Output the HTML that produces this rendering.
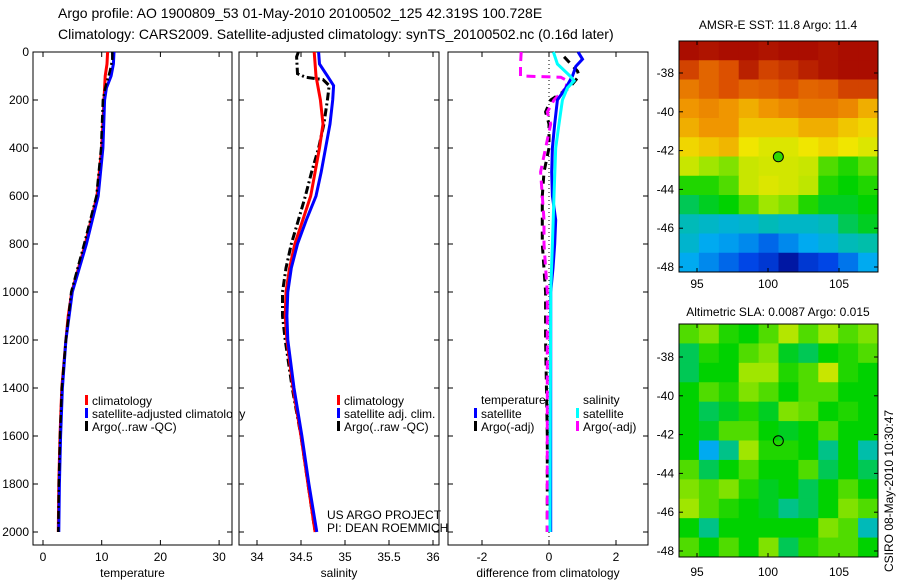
<!DOCTYPE html>
<html><head><meta charset="utf-8"><style>
body{margin:0;background:#fff}
svg{display:block;font-family:"Liberation Sans",sans-serif}
</style></head><body>
<svg id="c" width="900" height="580" viewBox="0 0 900 580">
<text x="58" y="18" font-size="14">Argo profile: AO 1900809_53 01-May-2010 20100502_125 42.319S 100.728E</text>
<text x="58" y="39" font-size="14">Climatology: CARS2009. Satellite-adjusted climatology: synTS_20100502.nc (0.16d later)</text>
<g id="g"></g>
<text x="327" y="519" font-size="12">US ARGO PROJECT</text>
<text x="327" y="532" font-size="12">PI: DEAN ROEMMICH</text>
<text x="778" y="29" font-size="12" text-anchor="middle">AMSR-E SST: 11.8 Argo: 11.4</text>
<text x="778" y="316" font-size="12" text-anchor="middle">Altimetric SLA: 0.0087 Argo: 0.015</text>
<text transform="translate(893,572) rotate(-90)" font-size="12">CSIRO 08-May-2010 10:30:47</text>
</svg>
<script>
// ---- data ----
const depthTicks=[0,200,400,600,800,1000,1200,1400,1600,1800,2000];
const tempTicks=[0,10,20,30];
const salTicks=[34,34.5,35,35.5,36];
const salTickLabels=["34","34.5","35","35.5","36"];
const diffTicks=[-2,0,2];
const tempClimDepth=[0,50,100,200,400,600,800,1000,1100,1200,1400,1600,1800,2000];
const tempClim=[11.0,10.9,10.6,10.4,10.0,9.2,7.2,4.9,4.3,3.9,3.2,2.9,2.7,2.6];
const tempSatDepth=[0,50,100,150,200,400,600,800,1000,1200,1400,1600,1800,2000];
const tempSat=[12.1,12.0,11.6,10.8,10.5,10.2,9.4,7.4,5.0,3.9,3.3,3.0,2.8,2.7];
const tempArgoDepth=[0,30,80,150,200,400,600,800,1000,1200,1400,1600,1800,2000];
const tempArgo=[11.8,11.8,11.4,10.6,10.2,9.9,9.1,7.0,4.8,3.9,3.2,2.9,2.7,2.6];
const salClimDepth=[0,100,200,300,400,500,600,700,800,900,1000,1100,1200,1400,1600,1800,2000];
const salClim=[34.65,34.67,34.72,34.75,34.71,34.66,34.61,34.52,34.43,34.37,34.33,34.32,34.34,34.41,34.50,34.58,34.66];
const salSatDepth=[0,50,100,140,200,300,400,500,600,700,800,900,1000,1100,1200,1400,1600,1800,2000];
const salSat=[34.70,34.71,34.80,34.87,34.86,34.83,34.78,34.73,34.67,34.56,34.46,34.39,34.35,34.34,34.35,34.42,34.51,34.59,34.68];
const salArgoDepth=[0,20,90,105,115,140,200,300,400,500,600,700,800,900,1000,1100,1200,1400,1600,1800,2000];
const salArgo=[34.47,34.45,34.46,34.55,34.75,34.82,34.80,34.76,34.70,34.62,34.55,34.47,34.39,34.33,34.29,34.29,34.32,34.40,34.50,34.58,34.66];
const dTempSatDepth=[0,30,60,100,150,200,300,400,500,600,700,800,900,1000,1500,2000];
const dTempSat=[0.87,1.0,0.8,0.7,0.5,0.25,0.17,0.1,0.08,0.1,0.2,0.17,0.12,0.05,0.05,0.05];
const dSalSatDepth=[0,50,100,120,150,200,300,400,600,800,1000,1500,2000];
const dSalSat=[0.13,0.25,0.63,0.75,0.55,0.4,0.3,0.2,0.15,0.1,0.05,0.04,0.03];
const dTempArgoDepth=[20,80,100,150,200,250,300,400,500,600,800,1000,1200,1600,2000];
const dTempArgo=[0.45,0.85,0.9,0.6,0.05,-0.1,0.0,0.0,-0.15,-0.2,-0.2,-0.1,-0.1,-0.05,-0.05];
const dSalArgoDepth=[0,50,90,100,105,120,150,200,250,300,400,500,600,700,800,900,1000,1500,2000];
const dSalArgo=[-0.83,-0.85,-0.85,-0.85,0.35,0.55,0.5,0.15,-0.05,0.05,-0.1,-0.25,-0.2,-0.15,-0.15,-0.1,-0.05,-0.05,-0.05];
const mapLonTicks=[95,100,105];
const mapLatTicks=[-38,-40,-42,-44,-46,-48];
const argoLon=100.728, argoLat=-42.319;
const sstGrid=[
[0.98,0.97,0.98,0.98,0.97,0.98,0.98,0.97,0.98,0.98],
[0.90,0.85,0.88,0.95,0.90,0.92,0.95,0.97,0.98,0.98],
[0.82,0.85,0.88,0.85,0.86,0.88,0.85,0.86,0.90,0.90],
[0.78,0.80,0.78,0.75,0.78,0.80,0.82,0.82,0.80,0.75],
[0.75,0.78,0.78,0.72,0.72,0.72,0.75,0.75,0.72,0.70],
[0.70,0.72,0.74,0.68,0.66,0.66,0.68,0.70,0.68,0.66],
[0.64,0.60,0.58,0.64,0.65,0.65,0.64,0.55,0.52,0.56],
[0.52,0.52,0.55,0.64,0.66,0.65,0.63,0.52,0.50,0.52],
[0.45,0.48,0.50,0.55,0.60,0.58,0.52,0.48,0.48,0.50],
[0.38,0.36,0.34,0.35,0.38,0.36,0.36,0.38,0.45,0.48],
[0.35,0.30,0.28,0.25,0.20,0.25,0.30,0.33,0.38,0.40],
[0.30,0.25,0.20,0.15,0.12,0.05,0.12,0.15,0.22,0.30]];
const slaGrid=[
[0.55,0.58,0.52,0.50,0.55,0.62,0.55,0.60,0.55,0.58],
[0.45,0.52,0.50,0.55,0.58,0.48,0.45,0.50,0.52,0.55],
[0.45,0.50,0.50,0.60,0.60,0.52,0.55,0.64,0.52,0.50],
[0.50,0.55,0.52,0.58,0.55,0.50,0.55,0.55,0.50,0.50],
[0.50,0.45,0.48,0.52,0.48,0.58,0.56,0.50,0.52,0.50],
[0.50,0.48,0.55,0.55,0.50,0.48,0.50,0.55,0.50,0.50],
[0.50,0.30,0.42,0.60,0.52,0.52,0.50,0.42,0.50,0.40],
[0.55,0.45,0.50,0.55,0.50,0.50,0.55,0.45,0.50,0.45],
[0.58,0.55,0.58,0.52,0.48,0.50,0.45,0.50,0.55,0.50],
[0.60,0.55,0.52,0.50,0.48,0.42,0.45,0.50,0.58,0.55],
[0.50,0.42,0.50,0.50,0.50,0.50,0.50,0.58,0.55,0.38],
[0.55,0.50,0.55,0.50,0.58,0.45,0.52,0.55,0.55,0.50]];

// ---- drawing ----
const NS='http://www.w3.org/2000/svg';
const G=document.getElementById('g');
function mk(tag,attrs,parent){const e=document.createElementNS(NS,tag);for(const k in attrs)e.setAttribute(k,attrs[k]);(parent||G).appendChild(e);return e;}
const yD=d=>52+d*0.24;
const PT=52,PB=545;
const panels=[
 {l:33,r:232,sx:v=>43+v*5.87,ticks:tempTicks,labels:tempTicks.map(String),xl:'temperature',name:'temperature'},
 {l:239,r:439,sx:v=>257+(v-34)*88,ticks:salTicks,labels:salTickLabels,xl:'salinity',name:'salinity'},
 {l:448,r:648,sx:v=>549+v*33.5,ticks:diffTicks,labels:diffTicks.map(String),xl:'difference from climatology',name:'difference'}];
function line(p,depths,vals,color,dash,name,w){
  const pts=depths.map((d,i)=>p.sx(vals[i]).toFixed(1)+','+yD(d).toFixed(1)).join(' ');
  const e=mk('polyline',{points:pts,fill:'none',stroke:color,'stroke-width':w||3});
  if(dash)e.setAttribute('stroke-dasharray',dash);
  
  
}
panels.forEach((p,pi)=>{
  const r=mk('rect',{x:p.l,y:PT,width:p.r-p.l,height:PB-PT,fill:'#fff',stroke:'#000','stroke-width':1});
  
  
  p.ticks.forEach((t,i)=>{
    const x=p.sx(t);
    mk('line',{x1:x,x2:x,y1:PB,y2:PB-5,stroke:'#000'});
    mk('line',{x1:x,x2:x,y1:PT,y2:PT+5,stroke:'#000'});
    const tx=mk('text',{x:x,y:561,'font-size':12,'text-anchor':'middle'});tx.textContent=p.labels[i];
    
    
  });
  depthTicks.forEach(d=>{
    const y=yD(d);
    mk('line',{x1:p.l,x2:p.l+5,y1:y,y2:y,stroke:'#000'});
    mk('line',{x1:p.r,x2:p.r-5,y1:y,y2:y,stroke:'#000'});
    if(pi===0){const t=mk('text',{x:29,y:y+4,'font-size':12,'text-anchor':'end'});t.textContent=d;
      
      }
  });
  const xl=mk('text',{x:(p.l+p.r)/2,y:577,'font-size':12,'text-anchor':'middle'});xl.textContent=p.xl;
  
  
});
const P0=panels[0],P1=panels[1],P2=panels[2];
const zl=mk('line',{x1:P2.sx(0),x2:P2.sx(0),y1:PT,y2:PB,stroke:'#000','stroke-dasharray':'1,3'});


line(P0,tempClimDepth,tempClim,'#f00',null,'temp-climatology-line');
line(P0,tempSatDepth,tempSat,'#00f',null,'temp-satellite-line');
line(P0,tempArgoDepth,tempArgo,'#000','8,3,2,3','temp-argo-line',2.5);
line(P1,salArgoDepth,salArgo,'#000','8,3,2,3','sal-argo-line',3);
line(P1,salClimDepth,salClim,'#f00',null,'sal-climatology-line');
line(P1,salSatDepth,salSat,'#00f',null,'sal-satellite-line');
line(P2,dTempArgoDepth,dTempArgo,'#000','8,6','diff-temp-argo-line');
line(P2,dSalArgoDepth,dSalArgo,'#f0f','9,6','diff-sal-argo-line');
line(P2,dTempSatDepth,dTempSat,'#00f',null,'diff-temp-satellite-line');
line(P2,dSalSatDepth,dSalSat,'#0ff',null,'diff-sal-satellite-line');
function leg(x,y,color,text,name){
  mk('rect',{x:x,y:y-10,width:3,height:10,fill:color});
  const t=mk('text',{x:x+7,y:y,'font-size':12});t.textContent=text;
  
  
}
leg(85,405,'#f00','climatology','temp-legend-climatology');
leg(85,418,'#00f','satellite-adjusted climatology','temp-legend-satellite');
leg(85,431,'#000','Argo(..raw -QC)','temp-legend-argo');
leg(337,405,'#f00','climatology','sal-legend-climatology');
leg(337,418,'#00f','satellite adj. clim.','sal-legend-satellite');
leg(337,431,'#000','Argo(..raw -QC)','sal-legend-argo');
let th=mk('text',{x:481,y:404,'font-size':12});th.textContent='temperature';


let sh=mk('text',{x:583,y:404,'font-size':12});sh.textContent='salinity';


leg(474,418,'#00f','satellite','diff-legend-temp-satellite');
leg(474,431,'#000','Argo(-adj)','diff-legend-temp-argo');
leg(576,418,'#0ff','satellite','diff-legend-sal-satellite');
leg(576,431,'#f0f','Argo(-adj)','diff-legend-sal-argo');
mk('rect',{x:232.5,y:PT,width:6,height:PB-PT,fill:'#fff'});
mk('line',{x1:P1.l,x2:P1.l,y1:PT,y2:PB,stroke:'#000'});
// colormap (matches reference palette)
const cmStops=[[0,0,0,130],[0.15,0,70,230],[0.3,0,170,240],[0.4,0,190,170],[0.5,0,210,0],[0.6,160,230,0],[0.68,240,230,0],[0.78,240,150,0],[0.88,220,80,0],[1,160,0,0]];
function cmap(v){
  for(let i=1;i<cmStops.length;i++){
    if(v<=cmStops[i][0]){const a=cmStops[i-1],b=cmStops[i],f=(v-a[0])/(b[0]-a[0]);
      return `rgb(${Math.round(a[1]+f*(b[1]-a[1]))},${Math.round(a[2]+f*(b[2]-a[2]))},${Math.round(a[3]+f*(b[3]-a[3]))})`;}
  }
  return 'rgb(160,0,0)';
}
function map(grid,top,bot,latRef,name,labOff){
  const L=679,R=878;
  const lx=lon=>768+(lon-100)*14.2;
  const ly=lat=>latRef+(-38-lat)*19.4;
  const rows=grid.length,cols=grid[0].length,cw=(R-L)/cols,ch=(bot-top)/rows;
  grid.forEach((row,i)=>row.forEach((v,j)=>{
    const e=mk('rect',{x:L+j*cw,y:top+i*ch,width:cw+0.5,height:ch+0.5,fill:cmap(v)});
    
    
  }));
  const b=mk('rect',{x:L,y:top,width:R-L,height:bot-top,fill:'none',stroke:'#000'});
  
  
  mapLonTicks.forEach(t=>{const x=lx(t);
    mk('line',{x1:x,x2:x,y1:top,y2:top+4,stroke:'#000'});mk('line',{x1:x,x2:x,y1:bot,y2:bot-4,stroke:'#000'});
    const tx=mk('text',{x:x,y:bot+labOff,'font-size':12,'text-anchor':'middle'});tx.textContent=t;
    
    });
  mapLatTicks.forEach(t=>{const y=ly(t);
    mk('line',{x1:L,x2:L+4,y1:y,y2:y,stroke:'#000'});mk('line',{x1:R,x2:R-4,y1:y,y2:y,stroke:'#000'});
    const tx=mk('text',{x:674,y:y+4,'font-size':12,'text-anchor':'end'});tx.textContent=t;
    
    });
  const c=mk('circle',{cx:lx(argoLon),cy:ly(argoLat),r:5,fill:name==='sst-map'?cmap(0.53):'none',stroke:'#000'});
  
  
}
map(sstGrid,41,272,73,'sst-map',16);
map(slaGrid,324,557,357,'sla-map',19);
</script>
</body></html>
